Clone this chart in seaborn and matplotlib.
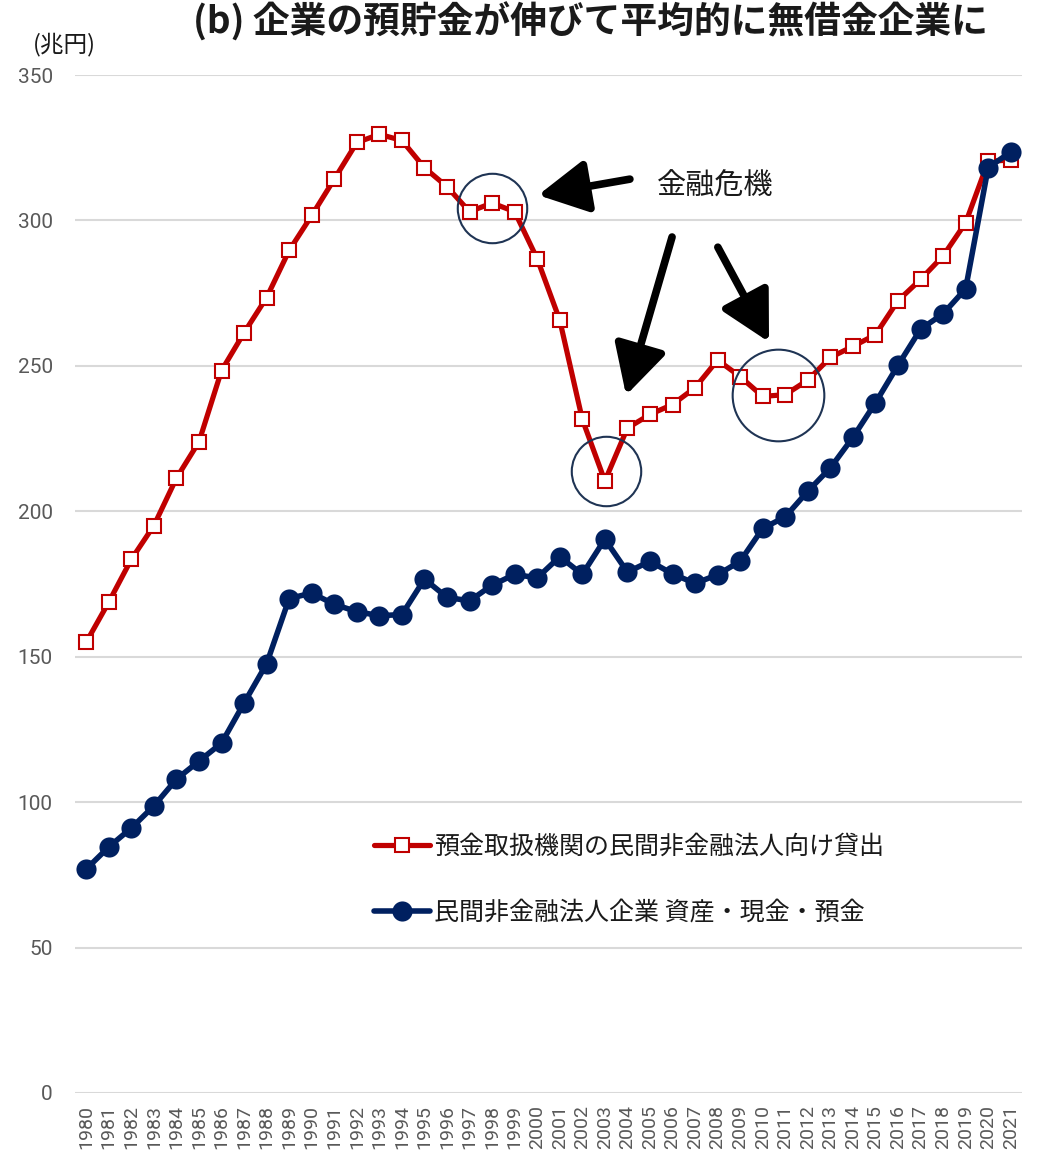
import numpy as np
import pandas as pd
import matplotlib
matplotlib.use("Agg")
import matplotlib.pyplot as plt
import seaborn as sns

# ---- data (兆円) ----
years = list(range(1980, 2022))
loans = [155.0, 168.8, 183.5, 195.1, 211.4, 223.9, 248.4, 261.4, 273.5, 289.7,
         301.7, 314.2, 326.8, 329.6, 327.5, 318.1, 311.6, 303.0, 306.0, 303.0,
         286.8, 265.7, 231.6, 210.4, 228.6, 233.3, 236.7, 242.5, 252.0, 246.3,
         239.5, 240.1, 245.1, 252.9, 256.7, 260.7, 272.4, 279.7, 287.8, 299.2,
         320.3, 320.8]
deposits = [77.0, 84.6, 91.1, 98.7, 107.9, 114.1, 120.3, 134.1, 147.6, 170.0,
            171.9, 168.0, 165.5, 164.1, 164.5, 176.7, 170.4, 169.2, 174.6, 178.3,
            177.1, 184.4, 178.3, 190.4, 179.1, 182.8, 178.5, 175.2, 178.2, 182.8,
            194.1, 198.1, 206.9, 214.9, 225.4, 237.3, 250.2, 262.6, 267.9, 276.5,
            318.2, 323.5]
loan_label = "預金取扱機関の民間非金融法人向け貸出"
deposit_label = "民間非金融法人企業 資産・現金・預金"
title = "(b) 企業の預貯金が伸びて平均的に無借金企業に"
unit = "(兆円)"
crisis_label = "金融危機"
y_ticks = [0, 50, 100, 150, 200, 250, 300, 350]

df = pd.DataFrame({"year": years, "loans": loans, "deposits": deposits})

sns.set_theme(style="white")
plt.rcParams["font.family"] = ["Noto Sans CJK JP", "DejaVu Sans"]

RED = "#C00000"
NAVY = "#002060"
GRAY = "#595959"

fig = plt.figure(figsize=(10.4, 11.63), dpi=100)
ax = fig.add_axes([0.0721, 0.0602, 0.9106, 0.8753])

sns.lineplot(data=df, x="year", y="loans", ax=ax, color=RED, linewidth=3.75,
             marker="s", markersize=10, markerfacecolor="white",
             markeredgecolor=RED, markeredgewidth=1.5, label=loan_label,
             zorder=3)
sns.lineplot(data=df, x="year", y="deposits", ax=ax, color=NAVY, linewidth=4,
             marker="o", markersize=14.5, markeredgewidth=0,
             label=deposit_label, zorder=4)

ax.set_xlim(1979.5, 2021.5)
ax.set_ylim(0, 350)
ax.set_yticks(y_ticks)
ax.set_xticks(years)
ax.set_xticklabels([str(y) for y in years], rotation=90, fontsize=14,
                   color=GRAY, family="Roboto")
ax.set_yticklabels([str(v) for v in y_ticks], fontsize=15, color=GRAY,
                   family="Roboto")
ax.tick_params(axis="x", length=0, pad=9)
ax.tick_params(axis="y", length=0, pad=16)
ax.set_xlabel("")
ax.set_ylabel("")
ax.grid(axis="y", color="#D9D9D9", linewidth=1.5)
ax.grid(axis="x", visible=False)
for s in ax.spines.values():
    s.set_visible(False)

# highlight rings around the crisis periods
for cx, cy, d in [(1998.0, 304.2, 50), (2003.05, 213.8, 50), (2010.7, 240.1, 66)]:
    ax.plot([cx], [cy], marker="o", markersize=d, markerfacecolor="none",
            markeredgecolor="#1F3454", markeredgewidth=1.5, zorder=5)

# arrows pointing at the rings
arrow_props = dict(arrowstyle="-|>,head_length=1.5,head_width=0.8",
                   mutation_scale=20, lw=5.5, color="black",
                   shrinkA=0, shrinkB=0)
for tail, tip in [((2004.11, 314.2), (2000.04, 308.7)),
                  ((2005.98, 294.3), (2003.94, 239.9)),
                  ((2008.01, 290.8), (2010.28, 258.2))]:
    ax.annotate("", xy=tip, xytext=tail, xycoords="data", arrowprops=arrow_props,
                zorder=6)

ax.text(2007.88, 311.5, crisis_label, fontsize=21, color="#1A1A1A",
        ha="center", va="center", zorder=6)

leg = ax.legend(loc="upper left", bbox_to_anchor=(0.316, 0.2544), frameon=False,
                fontsize=18, handlelength=2.24, handletextpad=0.15,
                labelspacing=1.6, borderpad=0, borderaxespad=0)
for t in leg.get_texts():
    t.set_color("#1A1A1A")

fig.text(590 / 1040, 1 - 22 / 1163, title, fontsize=26.5, weight="bold",
         ha="center", va="center", color="#1A1A1A")
fig.text(64 / 1040, 1 - 44 / 1163, unit, fontsize=17, ha="center",
         va="center", color="#1A1A1A")

fig.savefig("out.png", dpi=100)
